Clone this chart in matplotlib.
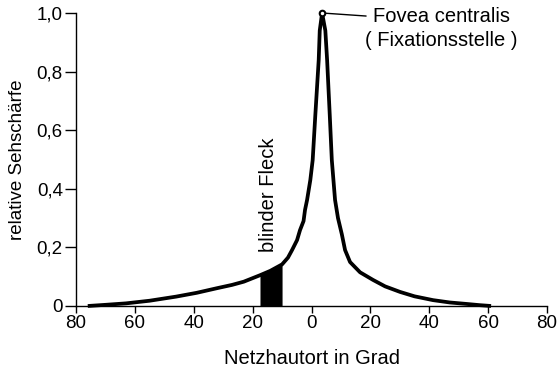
import matplotlib
matplotlib.use("Agg")
import matplotlib.pyplot as plt
import numpy as np

# values
grad = [-76, -70, -63, -55, -46, -39, -32, -27, -23, -17.5, -14, -10, -8, -6.6,
        -4.9, -3.9, -2.7, -2.2, -1.5, -0.4, 0.4, 1.3, 2.45, 2.8, 3.6, 4.7, 5.3,
        6.2, 6.9, 8.0, 9.0, 10.3, 11.4, 13.1, 16.5, 20.9, 25, 30.1, 35, 41.3,
        47, 52.7, 57, 61]
schaerfe = [0.0, 0.004, 0.009, 0.018, 0.032, 0.045, 0.061, 0.072, 0.083, 0.105,
            0.12, 0.142, 0.165, 0.191, 0.225, 0.259, 0.29, 0.328, 0.362, 0.43,
            0.498, 0.652, 0.84, 0.94, 1.0, 0.94, 0.84, 0.652, 0.498, 0.362,
            0.30, 0.245, 0.191, 0.150, 0.115, 0.089, 0.067, 0.048, 0.033,
            0.020, 0.012, 0.007, 0.003, 0.0]
blind_lo, blind_hi = -17.5, -10.0

x_ticks = [-80, -60, -40, -20, 0, 20, 40, 60, 80]
x_labels = [str(abs(t)) for t in x_ticks]
y_ticks = [0, 0.2, 0.4, 0.6, 0.8, 1.0]
y_labels = ["0", "0,2", "0,4", "0,6", "0,8", "1,0"]

plt.rcParams['font.family'] = ['Liberation Sans', 'DejaVu Sans']
fs = 13.5
fs_big = 14.5

grad = np.array(grad)
schaerfe = np.array(schaerfe)

fig = plt.figure(figsize=(5.6, 3.68), dpi=100)
ax = fig.add_axes([76 / 560, 62 / 368, 471 / 560, 293 / 368])

ax.plot(grad, schaerfe, color='black', lw=2.7, clip_on=False,
        solid_capstyle='butt', solid_joinstyle='round', zorder=3)

# blinder Fleck
m = (grad >= blind_lo) & (grad <= blind_hi)
ax.fill_between(grad[m], 0, schaerfe[m], color='black', lw=0, zorder=2)

# Fovea
i = int(np.argmax(schaerfe))
ax.plot(grad[i], schaerfe[i], 'o', ms=4, mfc='white', mec='black', mew=1.5,
        clip_on=False, zorder=4)
ax.annotate("Fovea centralis", xy=(grad[i], schaerfe[i]),
            xytext=(20.9, schaerfe[i] - 0.012), fontsize=fs_big, ha='left',
            va='center', annotation_clip=False,
            arrowprops=dict(arrowstyle='-', color='black', lw=1.0,
                            shrinkA=3, shrinkB=2.5, relpos=(0, 0.5)))
ax.text(18.3, 0.905, "( Fixationsstelle )", fontsize=fs_big, ha='left', va='center')
ax.text(-14.6, 0.185, "blinder Fleck", fontsize=fs_big, rotation=90,
        ha='center', va='bottom')

ax.set_xlim(-80, 80)
ax.set_ylim(0, 1)
ax.set_xticks(x_ticks)
ax.set_xticklabels(x_labels)
ax.set_yticks(y_ticks)
ax.set_yticklabels(y_labels)
ax.tick_params(axis='x', length=5, width=1, pad=1.5, labelsize=fs, direction='out')
ax.tick_params(axis='y', length=8, width=1, pad=1.5, labelsize=fs, direction='out')
for s in ['top', 'right']:
    ax.spines[s].set_visible(False)
for s in ['left', 'bottom']:
    ax.spines[s].set_linewidth(1.0)

ax.set_xlabel("Netzhautort in Grad", fontsize=fs_big, labelpad=12)
ax.set_ylabel("relative Sehschärfe", fontsize=fs, labelpad=8)

fig.savefig("out.png", dpi=100)
